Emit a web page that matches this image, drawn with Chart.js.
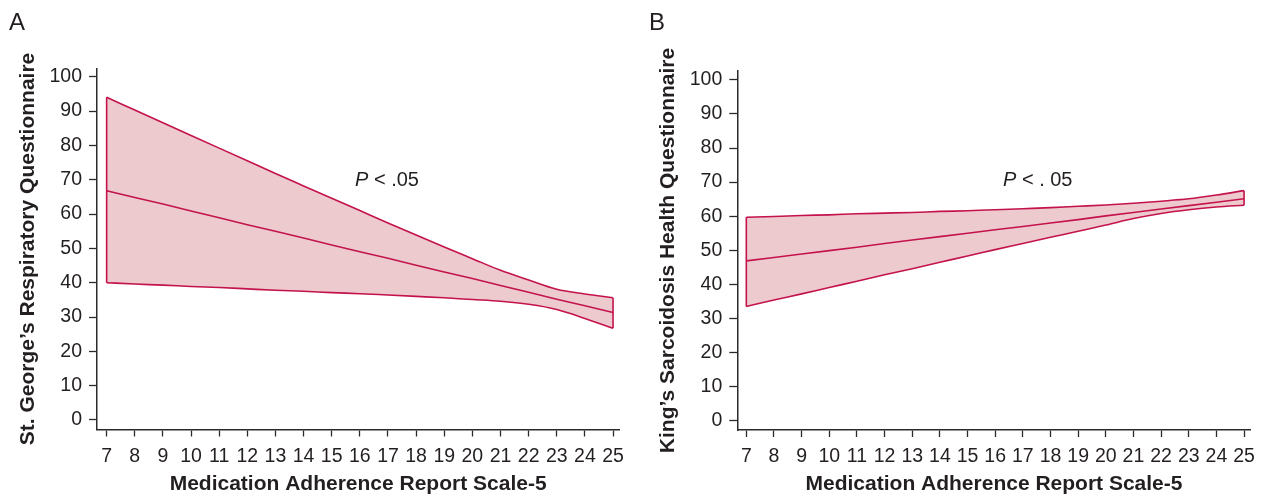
<!DOCTYPE html>
<html><head><meta charset="utf-8">
<script src="https://cdn.jsdelivr.net/npm/chart.js@4.4.1/dist/chart.umd.min.js"></script>
<style>
html,body{margin:0;padding:0;background:#fff;}
#wrap{position:relative;width:1263px;height:497px;overflow:hidden;background:#fff;}
canvas{position:absolute;top:0;}
.letter{position:absolute;top:10px;font:24px/24px "Liberation Sans",Arial,sans-serif;color:#231f20;}
</style></head><body>
<div id="wrap">
<canvas id="cA" width="632" height="497" style="left:0"></canvas>
<canvas id="cB" width="631" height="497" style="left:632px"></canvas>
<div class="letter" style="left:9px">A</div>
<div class="letter" style="left:649px">B</div>
</div>
<script>
// ---- data ----
const categories = [7, 8, 9, 10, 11, 12, 13, 14, 15, 16, 17, 18, 19, 20, 21, 22, 23, 24, 25];
const xTickLabels = ["7","8","9","10","11","12","13","14","15","16","17","18","19","20","21","22","23","24","25"];
const yTickValues = [0, 10, 20, 30, 40, 50, 60, 70, 80, 90, 100];

// Panel A: St. George's Respiratory Questionnaire
const sgrqUpper = [94.0, 90.3, 86.6, 82.9, 79.2, 75.5, 71.8, 68.2, 64.6, 61.0, 57.4, 53.9, 50.4, 47.0, 43.6, 40.8, 38.1, 36.7, 35.6];
const sgrqFit   = [66.8, 64.8, 62.9, 60.9, 58.9, 56.9, 55.0, 53.0, 51.0, 49.0, 47.1, 45.1, 43.1, 41.2, 39.2, 37.2, 35.2, 33.3, 31.3];
const sgrqLower = [40.0, 39.6, 39.3, 38.9, 38.6, 38.2, 37.8, 37.5, 37.1, 36.8, 36.4, 36.0, 35.6, 35.1, 34.6, 33.7, 32.2, 29.6, 26.7];

// Panel B: King's Sarcoidosis Health Questionnaire
const kshqUpper = [59.7, 59.9, 60.2, 60.4, 60.7, 60.9, 61.1, 61.4, 61.6, 61.9, 62.2, 62.5, 62.9, 63.3, 63.8, 64.4, 65.1, 66.2, 67.5];
const kshqFit   = [46.9, 47.9, 48.9, 49.9, 50.9, 52.0, 53.0, 54.0, 55.0, 56.0, 57.0, 58.0, 59.0, 60.1, 61.1, 62.1, 63.1, 64.1, 65.1];
const kshqLower = [33.5, 35.4, 37.2, 39.1, 40.9, 42.8, 44.6, 46.5, 48.3, 50.2, 52.0, 53.8, 55.6, 57.4, 59.3, 60.8, 61.9, 62.7, 63.2];

const xTitle = "Medication Adherence Report Scale-5";
const yTitleA = "St. George\u2019s Respiratory Questionnaire";
const yTitleB = "King\u2019s Sarcoidosis Health Questionnaire";
const pTextA = " < .05";
const pTextB = " < . 05";

// ---- style ----
const FONT = '"Liberation Sans", Arial, Helvetica, sans-serif';
const LINE = '#c4134c';
const FILL = 'rgba(237,202,206,1)';
const AXIS = '#2b2b2b';
const TEXT = '#231f20';

function pts(vals) { return categories.map((x, i) => ({x: x, y: vals[i]})); }
function edge(lo, up, i) { return [{x: categories[i], y: lo[i]}, {x: categories[i], y: up[i]}]; }

const pPlugin = {
  id: 'pLabel',
  afterDraw(chart, args, opts) {
    const ctx = chart.ctx;
    ctx.save();
    ctx.fillStyle = TEXT;
    ctx.textBaseline = 'alphabetic';
    ctx.textAlign = 'left';
    ctx.font = 'italic 20px ' + FONT;
    ctx.fillText('P', opts.x, opts.y);
    const w = ctx.measureText('P').width;
    ctx.font = '20px ' + FONT;
    ctx.fillText(opts.text, opts.x + w, opts.y);
    ctx.restore();
  }
};

function makeChart(id, g) {
  const ctx = document.getElementById(id);
  const lineDs = (vals, extra) => Object.assign({
    data: pts(vals), borderColor: LINE, borderWidth: 1.6, pointRadius: 0,
    fill: false, cubicInterpolationMode: 'monotone'
  }, extra || {});
  return new Chart(ctx, {
    type: 'line',
    data: {
      datasets: [
        lineDs(g.upper, {fill: {target: 2}, backgroundColor: FILL}),
        lineDs(g.fit, {cubicInterpolationMode: 'default', tension: 0}),
        lineDs(g.lower),
        {data: edge(g.lower, g.upper, 0), borderColor: LINE, borderWidth: 1.6, pointRadius: 0, fill: false},
        {data: edge(g.lower, g.upper, categories.length - 1), borderColor: LINE, borderWidth: 1.6, pointRadius: 0, fill: false}
      ]
    },
    options: {
      responsive: false,
      animation: false,
      devicePixelRatio: 1,
      layout: {padding: {left: 0, top: g.top, right: g.cw - g.right, bottom: 0}},
      plugins: {legend: {display: false}, tooltip: {enabled: false}, pLabel: g.p,
                filler: {drawTime: 'beforeDatasetsDraw'}},
      scales: {
        x: {
          type: 'linear', min: g.xmin, max: g.xmax,
          afterBuildTicks: (s) => { s.ticks = categories.map(v => ({value: v})); },
          afterFit: (s) => { s.height = 497 - g.bottom; },
          ticks: {
            autoSkip: false, maxRotation: 0, padding: 8, color: TEXT,
            font: {family: FONT, size: 19.5},
            callback: (v) => xTickLabels[categories.indexOf(v)]
          },
          grid: {drawOnChartArea: false, drawTicks: true, tickLength: 7, tickColor: AXIS, tickWidth: 1.3},
          border: {display: true, color: AXIS, width: 1.5},
          title: {display: true, text: xTitle, color: TEXT, padding: {top: 0, bottom: 0},
                  font: {family: FONT, size: 21, weight: 'bold'}}
        },
        y: {
          type: 'linear', min: g.ymin, max: g.ymax,
          afterBuildTicks: (s) => { s.ticks = yTickValues.map(v => ({value: v})); },
          afterFit: (s) => { s.width = g.left; },
          ticks: {padding: 7, color: TEXT, font: {family: FONT, size: 19.5}},
          grid: {drawOnChartArea: false, drawTicks: true, tickLength: 8, tickColor: AXIS, tickWidth: 1.3},
          border: {display: true, color: AXIS, width: 1.5},
          title: {display: true, text: g.ytitle, color: TEXT, padding: {top: g.ytPad, bottom: 0},
                  font: {family: FONT, size: 21, weight: 'bold'}}
        }
      }
    },
    plugins: [pPlugin]
  });
}

makeChart('cA', {
  cw: 632, left: 97, right: 622, top: 68.5, bottom: 429.5,
  xmin: 6.657, xmax: 25.22, ymin: -2.77, ymax: 102.4,
  upper: sgrqUpper, fit: sgrqFit, lower: sgrqLower,
  ytitle: yTitleA, ytPad: 16,
  p: {x: 355, y: 186, text: pTextA}
});
makeChart('cB', {
  cw: 631, left: 105.3, right: 624, top: 71, bottom: 430,
  xmin: 6.674, xmax: 25.24, ymin: -2.73, ymax: 102.6,
  upper: kshqUpper, fit: kshqFit, lower: kshqLower,
  ytitle: yTitleB, ytPad: 24,
  p: {x: 371, y: 186, text: pTextB}
});
</script>
</body></html>
